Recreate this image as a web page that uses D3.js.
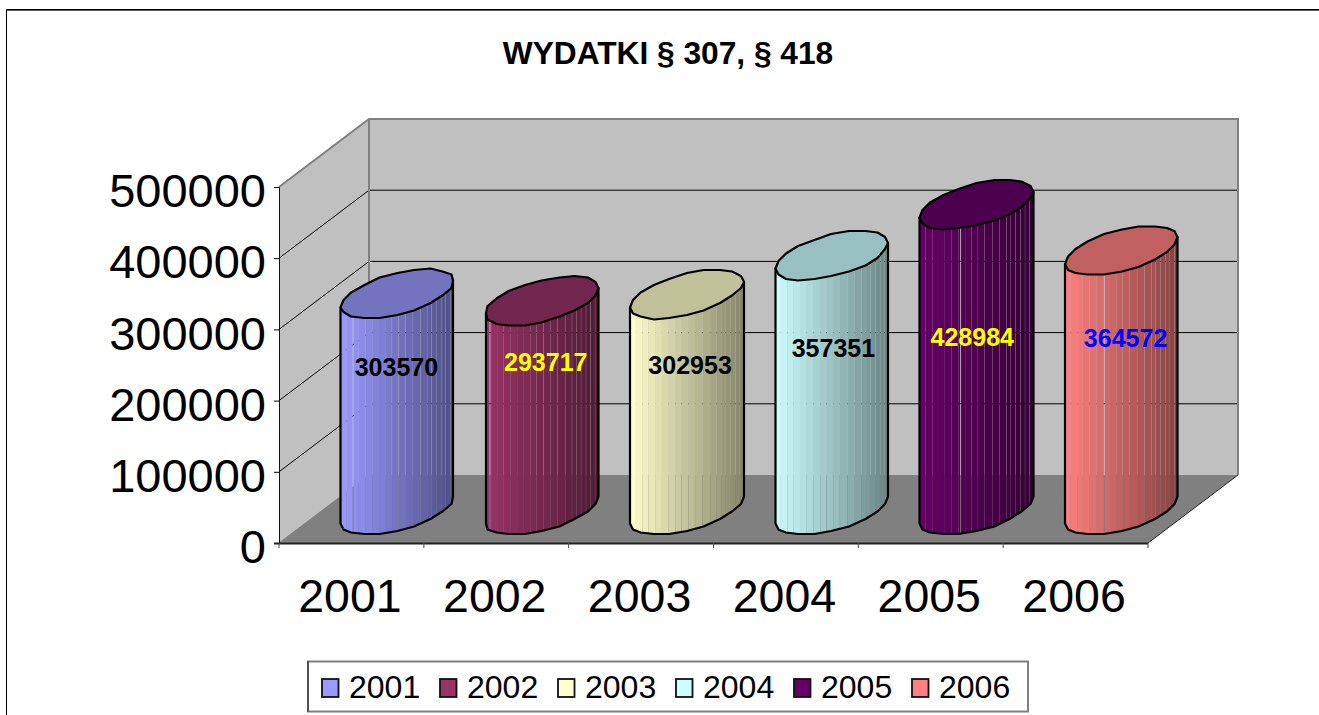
<!DOCTYPE html>
<html>
<head>
<meta charset="utf-8">
<script src="https://cdn.jsdelivr.net/npm/d3@7"></script>
<style>
html, body { margin: 0; padding: 0; background: #fff; overflow: hidden; }
svg { display: block; font-family: "Liberation Sans", Arial, sans-serif; }
</style>
</head>
<body>
<div id="chart-area"></div>
<script>
// data
var years = ["2001", "2002", "2003", "2004", "2005", "2006"];
var values = [303570, 293717, 302953, 357351, 428984, 364572];
var yTicks = [0, 100000, 200000, 300000, 400000, 500000];
var colors = ["#9999FF", "#993366", "#FFFFCC", "#CCFFFF", "#660066", "#FF8080"];
var labelColors = ["#000", "#FF0", "#000", "#000", "#FF0", "#00F"];
var title = "WYDATKI § 307, § 418";

// hand placed data labels, same as the original sheet
var labelDx = [0, 4.5, 4, 2.5, -3.5, 5];
var labelY = [367, 362, 365, 348, 337, 338];

// facet look of the cylinders
var brightSeam = [0.11, 0.04, -1, -1, 0.36, 0.35];
var seams = [0.454, 0.513, 0.573, 0.64, 0.706, 0.766, 0.804, 0.846, 0.89, 0.93, 0.97];
var facets = [0, 0.05, 0.11, 0.16, 0.22, 0.28, 0.34, 0.4, 0.454, 0.513, 0.573, 0.64, 0.706, 0.766, 0.804, 0.846, 0.89, 0.93, 0.97, 1];

var svg = d3.select("#chart-area").append("svg")
	.attr("width", 1319)
	.attr("height", 715);

var x = d3.scaleBand().domain(years).range([279, 1148]);
var y = d3.scaleLinear().domain([0, 500000]).range([543, 187]);
var depthX = 90, depthY = 68;
var x0 = x.range()[0], x1 = x.range()[1];

// outer frame
svg.append("path").attr("d", "M6.5,715V9.5H1319").attr("fill", "none").attr("stroke", "#000").attr("stroke-width", 1);
svg.append("path").attr("d", "M7,10.5H1319").attr("fill", "none").attr("stroke", "#555").attr("stroke-width", 1);

svg.append("text")
	.attr("x", 668)
	.attr("y", 63.5)
	.attr("text-anchor", "middle")
	.attr("font-size", 31.7)
	.attr("font-weight", "bold")
	.text(title);

// walls and floor
svg.append("polygon")
	.attr("points", [[x0 + depthX, y(500000) - depthY], [x1 + depthX, y(500000) - depthY], [x1 + depthX, y(0) - depthY], [x0 + depthX, y(0) - depthY]].join(" "))
	.attr("fill", "#C0C0C0");
svg.append("polygon")
	.attr("points", [[x0, y(500000)], [x0 + depthX, y(500000) - depthY], [x0 + depthX, y(0) - depthY], [x0, y(0)]].join(" "))
	.attr("fill", "#C0C0C0");
svg.append("polygon")
	.attr("points", [[x0, y(0)], [x1, y(0)], [x1 + depthX, y(0) - depthY], [x0 + depthX, y(0) - depthY]].join(" "))
	.attr("fill", "#808080");

// gridlines
yTicks.slice(1, 5).forEach(function(t) {
	svg.append("path")
		.attr("d", "M" + x0 + "," + y(t) + "L" + (x0 + depthX) + "," + (y(t) - depthY) + "H" + (x1 + depthX))
		.attr("fill", "none")
		.attr("stroke", "#000")
		.attr("stroke-width", 1);
});

// wall edges
svg.append("path")
	.attr("d", "M" + x0 + "," + y(500000) + "L" + (x0 + depthX) + "," + (y(500000) - depthY) + "H" + (x1 + depthX) + "V" + (y(0) - depthY))
	.attr("fill", "none")
	.attr("stroke", "#808080")
	.attr("stroke-width", 2);
svg.append("path")
	.attr("d", "M" + (x0 + depthX) + "," + (y(500000) - depthY) + "V" + (y(0) - depthY))
	.attr("fill", "none")
	.attr("stroke", "#808080")
	.attr("stroke-width", 2);
svg.append("path")
	.attr("d", "M" + x0 + "," + y(0) + "L" + (x0 + depthX) + "," + (y(0) - depthY))
	.attr("fill", "none")
	.attr("stroke", "#808080")
	.attr("stroke-width", 1);
svg.append("path")
	.attr("d", "M" + x1 + "," + y(0) + "L" + (x1 + depthX) + "," + (y(0) - depthY))
	.attr("fill", "none")
	.attr("stroke", "#222")
	.attr("stroke-width", 1);

// axes
var yAxis = d3.axisLeft(y).tickValues(yTicks).tickSize(5).tickPadding(8).tickFormat(d3.format("d"));
var gy = svg.append("g").attr("transform", "translate(" + x0 + ",0)").call(yAxis);
gy.selectAll("text").attr("font-size", 47).attr("font-family", "Liberation Sans").attr("fill", "#000").attr("dy", "0.42em");
gy.select(".domain").attr("stroke", "#111");

var gx = svg.append("g").attr("transform", "translate(0," + y(0) + ")");
gx.append("path").attr("d", "M" + (x0 - 5) + ",0.5H" + x1).attr("stroke", "#222").attr("stroke-width", 2);
x.domain().concat(["end"]).forEach(function(d) {
	var px = d === "end" ? x1 : x(d);
	gx.append("line").attr("x1", px).attr("x2", px).attr("y1", 0).attr("y2", 5).attr("stroke", "#444");
});
gx.selectAll("text.year").data(years).enter().append("text")
	.attr("class", "year")
	.attr("x", function(d) { return x(d) + x.bandwidth() / 2 - 1.5; })
	.attr("y", 68.5)
	.attr("text-anchor", "middle")
	.attr("font-size", 46.5)
	.text(function(d) { return d; });

// cylinders
var rx = 56.5, capK = 13, capB = 21;
var line = d3.line();
function snap(v) {
	return Math.round(v / 1.5) * 1.5;
}
function capPoint(cx, cy, t) {
	return [snap(cx + rx * Math.cos(t)), snap(cy + capB * Math.sin(t) - capK * Math.cos(t))];
}
var defs = svg.append("defs");

years.forEach(function(yr, i) {
	var cx = x(yr) + x.bandwidth() / 2 + depthX / 2 + 0.7;
	var baseY = y(0) - depthY / 2 + 1;
	var topY = baseY - (y(0) - y(values[i]));
	var left = cx - rx;

	// outline of the body: down the left side, along the front of the base, up the right side
	var body = [capPoint(cx, topY, Math.PI)];
	d3.range(0, 11).forEach(function(k) {
		body.push(capPoint(cx, baseY, Math.PI - k * Math.PI / 10));
	});
	body.push(capPoint(cx, topY, 0));
	var cap = d3.range(0, 20).map(function(k) { return capPoint(cx, topY, k * Math.PI / 10); });

	defs.append("clipPath").attr("id", "clip" + i)
		.append("path").attr("d", line(body) + "Z");

	var dark = d3.rgb(colors[i]);
	dark = d3.rgb(dark.r * 0.52, dark.g * 0.52, dark.b * 0.52);
	var shade = d3.interpolateRgb(colors[i], dark);

	var g = svg.append("g").attr("class", "cylinder");
	var strips = g.append("g").attr("clip-path", "url(#clip" + i + ")");
	function gap(f) {
		if (f === brightSeam[i]) return 0.45;
		return seams.indexOf(f) >= 0 ? 0.12 : 0;
	}
	var edges = facets.concat(brightSeam[i] >= 0 ? [brightSeam[i]] : []).sort(d3.ascending);
	edges = edges.filter(function(f, j) { return j === 0 || f !== edges[j - 1]; });
	d3.pairs(edges).forEach(function(p) {
		strips.append("rect")
			.attr("x", left + p[0] * rx * 2 + gap(p[0]))
			.attr("width", (p[1] - p[0]) * rx * 2 - gap(p[0]) - gap(p[1]))
			.attr("y", topY - 40)
			.attr("height", baseY - topY + 80)
			.attr("fill", shade((p[0] + p[1]) / 2));
	});
	g.append("path")
		.attr("d", line(body) + "Z")
		.attr("fill", "none")
		.attr("stroke", "#000")
		.attr("stroke-width", 2.2)
		.attr("stroke-linejoin", "round");
	g.append("path")
		.attr("d", line(cap) + "Z")
		.attr("fill", d3.rgb(colors[i]).darker(0.8))
		.attr("stroke", "#000")
		.attr("stroke-width", 2.2)
		.attr("stroke-linejoin", "round");

	svg.append("text")
		.attr("x", cx - 0.7 + labelDx[i])
		.attr("y", labelY[i] + 8.5)
		.attr("text-anchor", "middle")
		.attr("font-size", 25)
		.attr("font-weight", "bold")
		.attr("fill", labelColors[i])
		.text(values[i]);
});

// legend
var legend = svg.append("g");
legend.append("rect")
	.attr("x", 308).attr("y", 661.5)
	.attr("width", 720).attr("height", 50)
	.attr("fill", "#fff")
	.attr("stroke", "#808080")
	.attr("stroke-width", 2);
legend.append("path").attr("d", "M308,661V712").attr("stroke", "#222").attr("stroke-width", 1);
var legendX = d3.scalePoint().domain(years).range([322, 912]);
years.forEach(function(yr, i) {
	legend.append("rect")
		.attr("x", legendX(yr)).attr("y", 679)
		.attr("width", 16.5).attr("height", 18)
		.attr("fill", colors[i])
		.attr("stroke", "#111")
		.attr("stroke-width", 1.8);
	legend.append("text")
		.attr("x", legendX(yr) + 27)
		.attr("y", 698)
		.attr("font-size", 32)
		.text(yr);
});
</script>
</body>
</html>
